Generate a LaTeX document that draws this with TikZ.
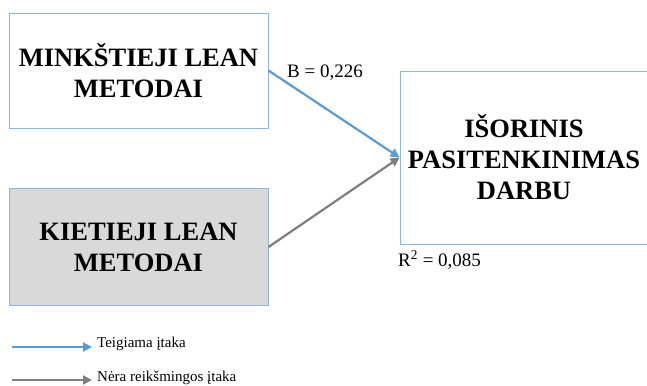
\documentclass[tikz,border=0pt]{standalone}
\usepackage{fontspec}
\setmainfont{Liberation Serif}
\usetikzlibrary{arrows.meta}
\definecolor{lineblue}{HTML}{5B9BD5}
\definecolor{boxblue}{HTML}{8DB6E2}
\definecolor{linegray}{HTML}{7F7F7F}
\definecolor{boxgray}{HTML}{D9D9D9}
\begin{document}
\begin{tikzpicture}[x=1pt,y=-1pt,
	factor/.style={draw=boxblue,line width=0.9pt,align=center,inner sep=0pt,
		font=\bfseries\fontsize{26.5}{31}\selectfont},
	coef/.style={anchor=west,inner sep=0pt,font=\fontsize{19}{22}\selectfont},
	legtext/.style={anchor=west,inner sep=0pt,font=\fontsize{15}{18}\selectfont},
	posarrow/.style={draw=lineblue,line width=2.2pt,-{Triangle[length=9pt,width=9pt]}},
	nullarrow/.style={draw=linegray,line width=2.2pt,-{Triangle[length=9pt,width=9pt]}}]
	\useasboundingbox (0,0) rectangle (647,385);
	\node[factor,minimum width=259pt,minimum height=115pt] (soft) at (138.5,70.5) {MINKŠTIEJI LEAN\\METODAI};
	\node[factor,fill=boxgray,minimum width=259pt,minimum height=117pt] (hard) at (138.5,247) {KIETIEJI LEAN\\METODAI};
	\node[factor,minimum width=248pt,minimum height=173pt] (sat) at (524,157.5) {IŠORINIS\\PASITENKINIMAS\\DARBU};

	\node[coef] (beta) at (287,73) {B = 0,226};
	\node[coef] (rsq) at (398,260) {R\textsuperscript{2} = 0,085};

	\path[posarrow] (soft.east) -- (sat.west);
	\path[nullarrow] (hard.east) -- (sat.west);

	% legend
	\coordinate (posstart) at (12,347);
	\coordinate (nullstart) at (12,380);
	\node[legtext] (postext) at (97,344) {Teigiama įtaka};
	\node[legtext] (nulltext) at (97,377.5) {Nėra reikšmingos įtaka};
	\path[posarrow] (posstart) -- ([xshift=-5pt]posstart -| postext.west);
	\path[nullarrow] (nullstart) -- ([xshift=-5pt]nullstart -| nulltext.west);
\end{tikzpicture}
\end{document}
